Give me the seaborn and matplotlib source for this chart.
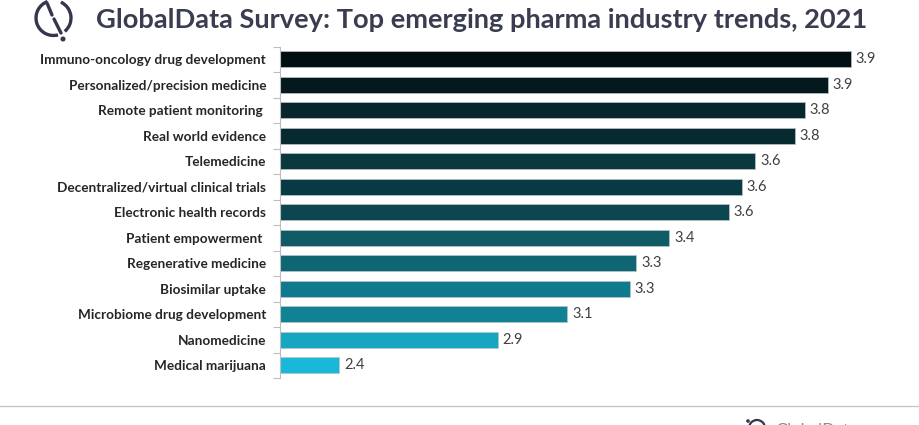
import numpy as np
import pandas as pd
import matplotlib
matplotlib.use("Agg")
import matplotlib.pyplot as plt
from matplotlib.patches import Arc, Circle
from matplotlib.lines import Line2D
import seaborn as sns

trends = ["Immuno-oncology drug development", "Personalized/precision medicine",
          "Remote patient monitoring ", "Real world evidence", "Telemedicine",
          "Decentralized/virtual clinical trials", "Electronic health records",
          "Patient empowerment ", "Regenerative medicine", "Biosimilar uptake",
          "Microbiome drug development", "Nanomedicine", "Medical marijuana"]
scores = [3.93, 3.86, 3.79, 3.76, 3.64, 3.60, 3.56, 3.38, 3.28, 3.26, 3.07, 2.86, 2.38]
bar_colors = ["#020f12", "#04191d", "#06262c", "#062a30", "#09383f", "#083a44", "#0c4650",
              "#0f5a64", "#0e6672", "#0f7a8e", "#118296", "#16a6c2", "#1ab8d8"]

W, H = 920, 425
df = pd.DataFrame({"trend": trends, "score": scores})

sns.set_theme(style="white")
plt.rcParams["font.family"] = ["Lato", "DejaVu Sans"]

fig = plt.figure(figsize=(W / 100, H / 100), dpi=100)
ax = fig.add_axes([280 / W, 1 - 378 / H, 620 / W, (378 - 46.5) / H])

sns.barplot(data=df, y="trend", x="score", hue="trend", palette=bar_colors, saturation=1,
            legend=False, width=0.63, edgecolor="#b9c4c7", linewidth=0.5, ax=ax)
ax.set_xlim(2.2, 2.2 + 620 / 330)
ax.set_ylim(len(trends) - 0.5, -0.5)
ax.set_xlabel("")
ax.set_ylabel("")
ax.xaxis.set_visible(False)
sns.despine(ax=ax, left=False, top=True, right=True, bottom=True)
ax.spines["left"].set_color("#bdbdbd")
ax.spines["left"].set_linewidth(0.8)

# category ticks sit between the bars, labels stay centred on them
ax.set_yticks(np.arange(len(trends)))
ax.set_yticklabels(trends, fontsize=9.8, fontweight="bold", color="#262626")
ax.tick_params(axis="y", which="major", length=0, pad=10)
ax.set_yticks(np.arange(len(trends) + 1) - 0.5, minor=True)
ax.tick_params(axis="y", which="minor", length=5, width=0.8, color="#bdbdbd", left=True)

for i, v in enumerate(scores):
    ax.annotate(f"{v:.1f}", (v, i), xytext=(3.5, 0), textcoords="offset points",
                va="center", fontsize=10.5, color="#404040")

fig.text(482 / W, 1 - 20 / H, "GlobalData Survey: Top emerging pharma industry trends, 2021",
         ha="center", va="center", fontsize=19.6, fontweight="bold", color="#3a3c50")

# footer rule
fig.add_artist(Line2D([0, 1], [1 - 406 / H] * 2, color="#c8c8c8", lw=1))

# logo, drawn in pixel coordinates on a full figure overlay
overlay = fig.add_axes([0, 0, 1, 1], facecolor="none")
overlay.set_xlim(0, W)
overlay.set_ylim(H, 0)
overlay.axis("off")
logo = "#34364d"
# y axis is inverted here, so angles run clockwise on screen
overlay.add_patch(Arc((53.5, 18), 35, 35, theta1=-65, theta2=50, color=logo, lw=2.4))
overlay.add_patch(Arc((53.5, 18), 35, 35, theta1=75, theta2=250, color=logo, lw=2.4))
overlay.plot([47, 52], [3, 15], color=logo, lw=2.4)
overlay.plot([54, 61], [19, 33], color=logo, lw=2.4)
overlay.add_patch(Circle((63, 39), 1.8, color=logo))

# footer logo, cut off by the bottom of the image
overlay.add_patch(Arc((757, 428), 16, 16, theta1=180, theta2=360, color=logo, lw=1.6))
overlay.add_patch(Circle((748, 421), 1.1, color=logo))
overlay.text(775, 422.5, "GlobalData", fontsize=12, color="#8c8c8c", va="top")

fig.savefig("out.png", dpi=100)
